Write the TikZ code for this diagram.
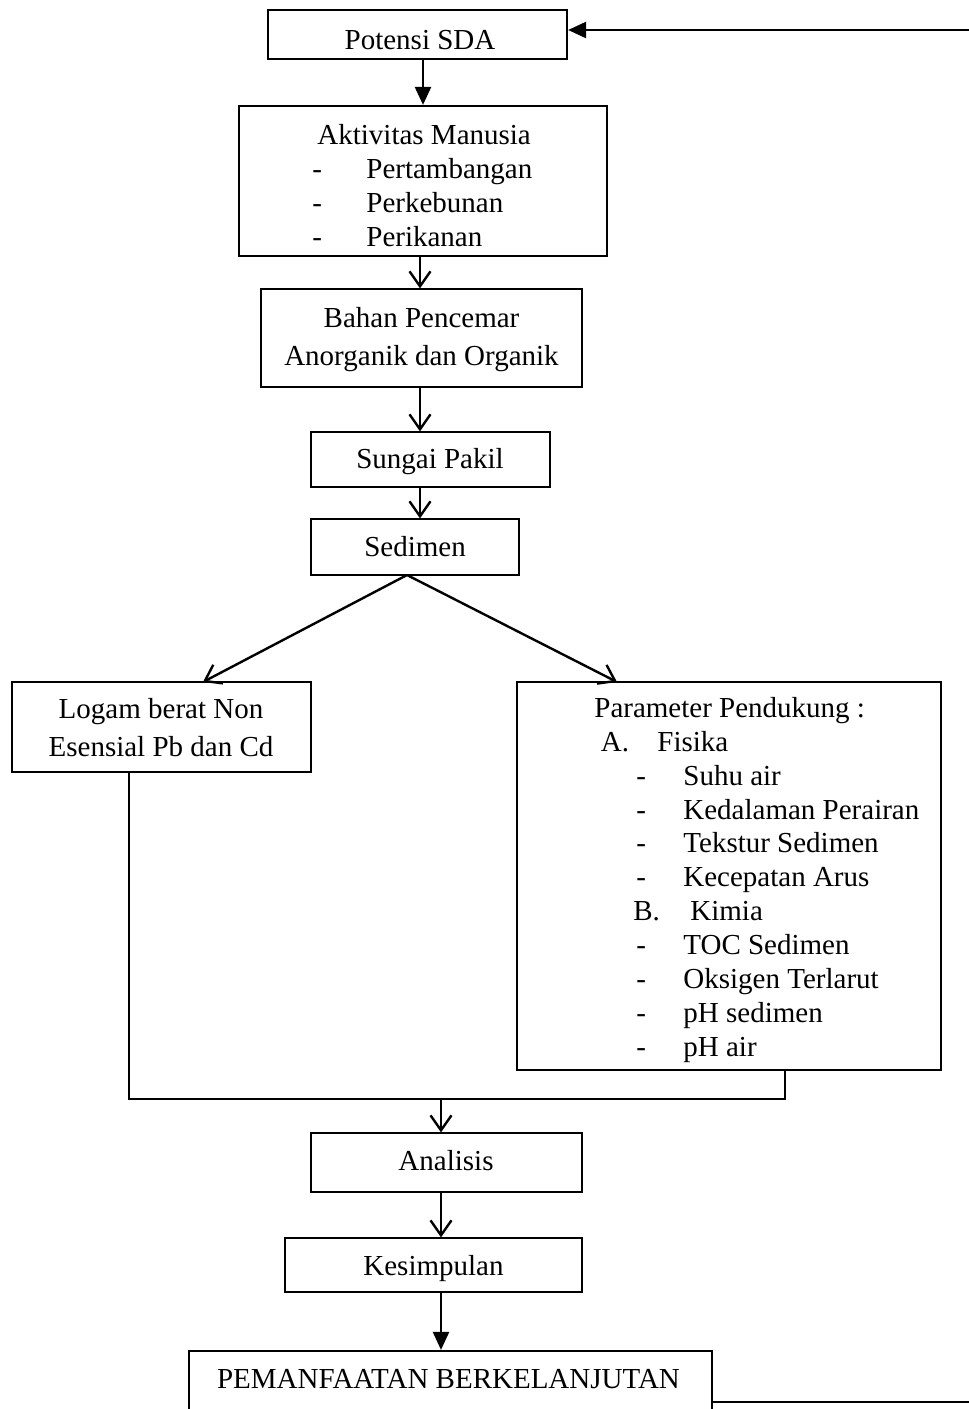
\documentclass[tikz,border=0pt]{standalone}
\usepackage{fontspec}
\setmainfont{Liberation Serif}
\usetikzlibrary{arrows.meta}
\newcommand\diafont{\fontsize{14.5}{17}\selectfont}
\begin{document}
\begin{tikzpicture}[x=0.5pt,y=-0.5pt,
  thickbox/.style={draw,line width=1.1pt,inner sep=0pt},
  thinbox/.style={draw,line width=0.6pt,inner sep=0pt},
  txt/.style={inner sep=0pt,anchor=base west,font=\diafont},
  ctxt/.style={inner sep=0pt,anchor=base,font=\diafont},
  farrow/.style={line width=1.2pt,-{Triangle[length=9pt,width=8pt]}},
  varrow/.style={line width=1.2pt,-{Straight Barb[length=7.5pt,width=10.5pt]}},
  conn/.style={line width=1pt},
]
\useasboundingbox (0,0) rectangle (969,1409);

% boxes
\node[thickbox,minimum width=149.5pt,minimum height=24.5pt] (pot) at (417.5,34.5) {};
\node[thickbox,minimum width=184pt,minimum height=75pt] (akt) at (423,181) {};
\node[thinbox,minimum width=160.5pt,minimum height=49pt] (bah) at (421.5,338) {};
\node[thinbox,minimum width=119.5pt,minimum height=27.5pt] (sun) at (430.5,459.5) {};
\node[thinbox,minimum width=104pt,minimum height=28pt] (sed) at (415,547) {};
\node[thinbox,minimum width=149.5pt,minimum height=45pt] (log) at (161.5,727) {};
\node[thinbox,minimum width=212pt,minimum height=194pt] (par) at (729,876) {};
\node[thinbox,minimum width=135.5pt,minimum height=29.5pt] (ana) at (446.5,1162.5) {};
\node[thinbox,minimum width=148.5pt,minimum height=27pt] (kes) at (433.5,1265) {};
\node[thickbox,minimum width=261.5pt,minimum height=34.5pt] (pem) at (450.5,1385.5) {};

% texts
\node[ctxt] (tpot) at (420,49) {Potensi SDA};
\node[txt] (ta0) at (317,144) {Aktivitas Manusia};
\node[txt] (ta1d) at (312,178) {-};
\node[txt] (ta1) at (366,178) {Pertambangan};
\node[txt] (ta2d) at (312,212) {-};
\node[txt] (ta2) at (366,212) {Perkebunan};
\node[txt] (ta3d) at (312,246) {-};
\node[txt] (ta3) at (366,246) {Perikanan};
\node[ctxt] (tb1) at (421.5,327) {Bahan Pencemar};
\node[ctxt] (tb2) at (421.5,365) {Anorganik dan Organik};
\node[ctxt] (tsun) at (430,468) {Sungai Pakil};
\node[ctxt] (tsed) at (415,556) {Sedimen};
\node[ctxt] (tl1) at (161,718) {Logam berat Non};
\node[ctxt] (tl2) at (161,756) {Esensial Pb dan Cd};

\node[txt] (p0) at (594,717.5) {Parameter Pendukung :};
\node[txt] (p1a) at (600.5,751.4) {A.};
\node[txt] (p1) at (657,751.4) {Fisika};
\node[txt] (p2d) at (636,785.2) {-};
\node[txt] (p2) at (683,785.2) {Suhu air};
\node[txt] (p3d) at (636,819.1) {-};
\node[txt] (p3) at (683,819.1) {Kedalaman Perairan};
\node[txt] (p4d) at (636,852.9) {-};
\node[txt] (p4) at (683,852.9) {Tekstur Sedimen};
\node[txt] (p5d) at (636,886.8) {-};
\node[txt] (p5) at (683,886.8) {Kecepatan Arus};
\node[txt] (p6a) at (633,920.6) {B.};
\node[txt] (p6) at (690,920.6) {Kimia};
\node[txt] (p7d) at (636,954.5) {-};
\node[txt] (p7) at (683,954.5) {TOC Sedimen};
\node[txt] (p8d) at (636,988.3) {-};
\node[txt] (p8) at (683,988.3) {Oksigen Terlarut};
\node[txt] (p9d) at (636,1022.2) {-};
\node[txt] (p9) at (683,1022.2) {pH sedimen};
\node[txt] (p10d) at (636,1056) {-};
\node[txt] (p10) at (683,1056) {pH air};

\node[ctxt] (tana) at (446,1170) {Analisis};
\node[ctxt] (tkes) at (433.5,1275) {Kesimpulan};
\node[ctxt] (tpem) at (448.5,1388) {PEMANFAATAN BERKELANJUTAN};

% helper coordinates
\coordinate (c1) at (423,0);
\coordinate (c2) at (420,0);
\coordinate (c3) at (441,0);
\coordinate (rin) at (969,30);
\coordinate (rout) at (969,1402);
\coordinate (fork) at (407,575);
\coordinate (lt) at (203,682);
\coordinate (rt) at (617,682);
\coordinate (lx) at (129,0);
\coordinate (rx) at (785,0);
\coordinate (hy) at (0,1099);

% connectors
\draw[farrow] (rin) -- (rin -| pot.east);
\draw[farrow] (pot.south -| c1) -- (akt.north -| c1);
\draw[varrow] (akt.south -| c2) -- (bah.north -| c2);
\draw[varrow] (bah.south -| c2) -- (sun.north -| c2);
\draw[varrow] (sun.south -| c2) -- (sed.north -| c2);
\draw[varrow] (fork) -- (lt);
\draw[varrow] (fork) -- (rt);
\draw[conn] (log.south -| lx) -- (lx |- hy) -- (rx |- hy) -- (par.south -| rx);
\draw[varrow] (c3 |- hy) -- (ana.north -| c3);
\draw[varrow] (ana.south -| c3) -- (kes.north -| c3);
\draw[farrow] (kes.south -| c3) -- (pem.north -| c3);
\draw[line width=1.1pt] (pem.east |- rout) -- (rout);
\end{tikzpicture}
\end{document}
